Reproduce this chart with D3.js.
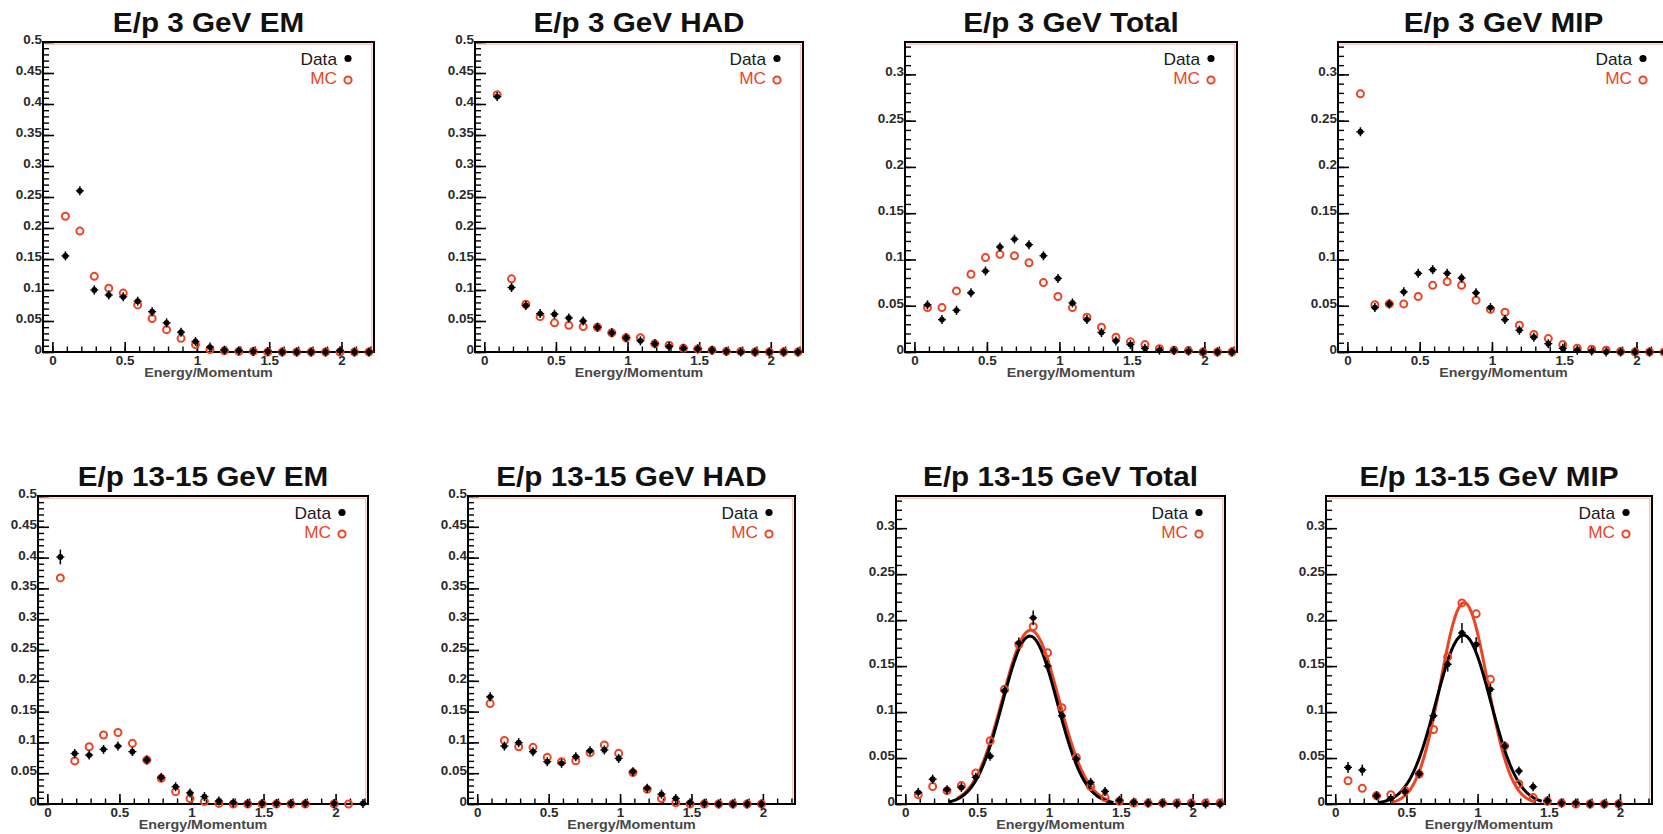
<!DOCTYPE html>
<html>
<head>
<meta charset="utf-8">
<script src="https://cdn.jsdelivr.net/npm/d3@7"></script>
<style>
  html, body { margin: 0; padding: 0; background: #fff; }
  svg { display: block; font-family: "Liberation Sans", Arial, Helvetica, sans-serif; }
</style>
</head>
<body>
<svg id="chart" width="1663" height="834"></svg>
<script>
// ---- bins and axis ticks ----
const binCenters = [0.09, 0.19, 0.29, 0.39, 0.49, 0.59, 0.69, 0.79, 0.89, 0.99, 1.09,
                    1.19, 1.29, 1.39, 1.49, 1.59, 1.69, 1.79, 1.89, 1.99, 2.09, 2.19];
const xTicks = [0, 0.5, 1, 1.5, 2];
const yTicksWide = [0, 0.05, 0.1, 0.15, 0.2, 0.25, 0.3, 0.35, 0.4, 0.45, 0.5];
const yTicksNarrow = [0, 0.05, 0.1, 0.15, 0.2, 0.25, 0.3];
const xAxisTitle = "Energy/Momentum";
const legendLabels = ["Data", "MC"];

// ---- 3 GeV ----
const em3Data  = [0.155, 0.26, 0.10, 0.092, 0.089, 0.082, 0.065, 0.047, 0.032, 0.017, 0.008, 0.003, 0.002, 0.001, 0.001, 0, 0, 0, 0, 0.002, 0, 0];
const em3MC    = [0.219, 0.195, 0.122, 0.103, 0.095, 0.076, 0.054, 0.036, 0.022, 0.012, 0.004, 0.002, 0.001, 0.001, 0, 0, 0, 0, 0, 0, 0, 0];
const had3Data = [0.412, 0.104, 0.075, 0.062, 0.061, 0.055, 0.050, 0.040, 0.031, 0.023, 0.018, 0.0135, 0.009, 0.006, 0.005, 0.003, 0.001, 0, 0, 0, 0, 0];
const had3MC   = [0.415, 0.118, 0.077, 0.057, 0.047, 0.043, 0.041, 0.040, 0.031, 0.023, 0.023, 0.0135, 0.011, 0.006, 0.005, 0.003, 0.001, 0.001, 0, 0, 0, 0];
const tot3Data = [0.051, 0.035, 0.045, 0.064, 0.0875, 0.1135, 0.122, 0.116, 0.104, 0.0795, 0.053, 0.035, 0.021, 0.012, 0.008, 0.004, 0.002, 0.0015, 0.001, 0, 0, 0];
const tot3MC   = [0.048, 0.048, 0.066, 0.084, 0.102, 0.1055, 0.104, 0.0965, 0.075, 0.060, 0.048, 0.0376, 0.0268, 0.016, 0.011, 0.008, 0.0036, 0.002, 0.0015, 0, 0, 0];
const mip3Data = [0.238, 0.048, 0.052, 0.065, 0.085, 0.089, 0.085, 0.080, 0.064, 0.048, 0.035, 0.0235, 0.016, 0.009, 0.004, 0.002, 0.001, 0, 0, 0, 0, 0];
const mip3MC   = [0.279, 0.051, 0.052, 0.052, 0.060, 0.072, 0.076, 0.072, 0.056, 0.046, 0.043, 0.029, 0.019, 0.0145, 0.008, 0.004, 0.003, 0.002, 0.0005, 0, 0, 0];

// ---- 13-15 GeV ----
const em13Data  = [0.401, 0.082, 0.0795, 0.0887, 0.094, 0.085, 0.0714, 0.043, 0.028, 0.018, 0.012, 0.005, 0.002, 0.001, 0.001, 0.001, 0.001, 0.001, null, 0.001, null, 0.001];
const em13MC    = [0.367, 0.070, 0.093, 0.112, 0.116, 0.0985, 0.0714, 0.0417, 0.020, 0.009, 0.004, 0.001, 0, 0, 0, 0, 0, 0, null, 0, 0, null];
const em13Err   = [0.012, 0, 0, 0, 0, 0, 0, 0, 0, 0, 0, 0, 0, 0, 0, 0, 0, 0, 0, 0, 0, 0];
const had13Data = [0.174, 0.094, 0.0996, 0.085, 0.0687, 0.066, 0.0768, 0.0866, 0.0877, 0.074, 0.0525, 0.0254, 0.016, 0.009, 0.002, 0.001, 0, 0, 0, 0, null, null];
const had13MC   = [0.163, 0.103, 0.093, 0.092, 0.0758, 0.0687, 0.0703, 0.0833, 0.0958, 0.0822, 0.051, 0.0238, 0.009, 0.002, 0, 0, 0, 0, 0, 0, null, null];
const tot13Data = [0.0127, 0.027, 0.0155, 0.018, 0.029, 0.052, 0.123, 0.175, 0.2025, 0.150, 0.096, 0.049, 0.0235, 0.0137, 0.004, 0.002, 0.001, 0.001, 0, 0, 0, 0];
const tot13MC   = [0.010, 0.019, 0.0145, 0.020, 0.0336, 0.0687, 0.1247, 0.1735, 0.193, 0.1645, 0.1048, 0.0506, 0.019, 0.007, 0.003, 0.001, 0.001, 0.001, 0.001, 0.001, 0.001, 0.001];
const tot13Err  = [0.002, 0.004, 0.003, 0.003, 0.003, 0.004, 0.005, 0.006, 0.008, 0.006, 0.005, 0.004, 0.003, 0.003, 0, 0, 0, 0, 0, 0, 0, 0];
const mip13Data = [0.0398, 0.0369, 0.009, 0.006, 0.0137, 0.033, 0.096, 0.152, 0.186, 0.1735, 0.1247, 0.063, 0.036, 0.0188, 0.0036, 0.001, 0.001, 0, 0, 0, null, null];
const mip13MC   = [0.0253, 0.017, 0.009, 0.010, 0.0145, 0.0325, 0.081, 0.160, 0.2187, 0.2068, 0.1356, 0.063, 0.0217, 0.007, 0.003, 0.001, 0, 0, 0, 0, null, null];
const mip13Err  = [0.006, 0.006, 0.003, 0.002, 0.003, 0.004, 0.006, 0.008, 0.011, 0.008, 0.006, 0.004, 0.004, 0.003, 0, 0, 0, 0, 0, 0, 0, 0];

// Gaussian fit parameters [amplitude, mean, sigma, from, to]
const tot13FitData = [0.1826, 0.867, 0.190, 0.30, 1.45];
const tot13FitMC   = [0.189, 0.872, 0.196, 0.36, 1.42];
const mip13FitData = [0.1837, 0.900, 0.192, 0.30, 1.45];
const mip13FitMC   = [0.219, 0.905, 0.165, 0.40, 1.40];

// ---- layout ----
const xDomain = [-0.065, 2.225];
const RED = "#ec4526";
const rowTop = [{ y0: 42, y1: 352 }, { y0: 496, y1: 804 }];
const panels = [
  { title: "E/p 3 GeV EM",        x0: 43,   x1: 374,  row: 0, ymax: 0.5,   yTicks: yTicksWide,   data: em3Data,   mc: em3MC },
  { title: "E/p 3 GeV HAD",       x0: 475,  x1: 803,  row: 0, ymax: 0.5,   yTicks: yTicksWide,   data: had3Data,  mc: had3MC },
  { title: "E/p 3 GeV Total",     x0: 905,  x1: 1237, row: 0, ymax: 0.335, yTicks: yTicksNarrow, data: tot3Data,  mc: tot3MC },
  { title: "E/p 3 GeV MIP",       x0: 1338, x1: 1669, row: 0, ymax: 0.335, yTicks: yTicksNarrow, data: mip3Data,  mc: mip3MC },
  { title: "E/p 13-15 GeV EM",    x0: 38,   x1: 368,  row: 1, ymax: 0.5,   yTicks: yTicksWide,   data: em13Data,  mc: em13MC,  err: em13Err },
  { title: "E/p 13-15 GeV HAD",   x0: 468,  x1: 795,  row: 1, ymax: 0.5,   yTicks: yTicksWide,   data: had13Data, mc: had13MC },
  { title: "E/p 13-15 GeV Total", x0: 896,  x1: 1225, row: 1, ymax: 0.335, yTicks: yTicksNarrow, data: tot13Data, mc: tot13MC, err: tot13Err,
    fitData: tot13FitData, fitMC: tot13FitMC },
  { title: "E/p 13-15 GeV MIP",   x0: 1326, x1: 1652, row: 1, ymax: 0.335, yTicks: yTicksNarrow, data: mip13Data, mc: mip13MC, err: mip13Err,
    fitData: mip13FitData, fitMC: mip13FitMC }
];

const svg = d3.select("#chart");
const fmt = d => d === 0 ? "0" : d3.format(".2~f")(d);

// text drawn with a slight horizontal stretch
function stretchedText(parent, x, y, str, o) {
  return parent.append("text")
    .attr("transform", `translate(${x},${y}) scale(${o.sx || 1},1)`)
    .attr("text-anchor", o.anchor || "middle")
    .attr("font-size", o.size)
    .attr("font-weight", o.weight || "normal")
    .attr("fill", o.fill || "#000")
    .text(str);
}

function gaussPath(xs, ys, p) {
  const [a, m, s, lo, hi] = p;
  const pts = d3.range(lo, hi + 1e-9, 0.005).map(t => [t, a * Math.exp(-0.5 * ((t - m) / s) ** 2)]);
  return d3.line().x(d => xs(d[0])).y(d => ys(d[1])).curve(d3.curveLinear)(pts);
}

panels.forEach(p => {
  const { y0, y1 } = rowTop[p.row];
  const x = d3.scaleLinear().domain(xDomain).range([p.x0, p.x1]);
  const y = d3.scaleLinear().domain([0, p.ymax]).range([y1, y0]);
  const g = svg.append("g");
  const cx = (p.x0 + p.x1) / 2;

  // title
  stretchedText(g, cx, y0 - 10.5, p.title, { size: 28, weight: "bold", sx: 1.06, fill: "#111" });

  // faint red inner edge along top and right
  g.append("path")
    .attr("d", `M${p.x0 + 2},${y0 + 2.2}H${p.x1 - 2.2}V${y1 - 2}`)
    .attr("fill", "none").attr("stroke", "#f3ada0").attr("stroke-width", 1);

  // y axis: minor and major ticks drawn inward
  const yMinor = d3.range(0, p.ymax + 1e-9, 0.01);
  g.append("g").attr("transform", `translate(${p.x0},0)`)
    .call(d3.axisLeft(y).tickValues(yMinor).tickSize(-6).tickFormat(""))
    .call(s => s.select(".domain").remove())
    .call(s => s.selectAll("line").attr("stroke", "#000").attr("stroke-width", 1.4));
  const ya = g.append("g").attr("transform", `translate(${p.x0},0)`)
    .call(d3.axisLeft(y).tickValues(p.yTicks).tickSize(-11).tickPadding(1).tickFormat(fmt));
  ya.select(".domain").remove();
  ya.selectAll("line").attr("stroke", "#000").attr("stroke-width", 1.6);
  ya.selectAll("text").attr("font-size", 12).attr("font-weight", "bold").attr("fill", "#2a2a2a")
    .attr("font-family", "Liberation Sans, Arial, sans-serif")
    .attr("dy", "0.12em").attr("transform", "scale(1.12,1)");

  // x axis
  const xMinor = d3.range(0, 2.2 + 1e-9, 0.1);
  g.append("g").attr("transform", `translate(0,${y1})`)
    .call(d3.axisBottom(x).tickValues(xMinor).tickSize(-5.5).tickFormat(""))
    .call(s => s.select(".domain").remove())
    .call(s => s.selectAll("line").attr("stroke", "#000").attr("stroke-width", 1.4));
  const xa = g.append("g").attr("transform", `translate(0,${y1})`)
    .call(d3.axisBottom(x).tickValues(xTicks).tickSize(-10).tickPadding(4).tickFormat(fmt));
  xa.select(".domain").remove();
  xa.selectAll("line").attr("stroke", "#000").attr("stroke-width", 1.6);
  xa.selectAll("text").attr("font-size", 12).attr("font-weight", "bold").attr("fill", "#2a2a2a")
    .attr("font-family", "Liberation Sans, Arial, sans-serif")
    .attr("transform", "scale(1.12,1)");

  stretchedText(g, cx, y1 + 25, xAxisTitle, { size: 13, weight: "bold", sx: 1.1, fill: "#474747" });

  // frame
  g.append("rect")
    .attr("x", p.x0).attr("y", y0).attr("width", p.x1 - p.x0).attr("height", y1 - y0)
    .attr("fill", "none").attr("stroke", "#000").attr("stroke-width", 2);

  // fit curves
  if (p.fitMC) {
    g.append("path").attr("d", gaussPath(x, y, p.fitMC))
      .attr("fill", "none").attr("stroke", RED).attr("stroke-width", 3);
  }
  if (p.fitData) {
    g.append("path").attr("d", gaussPath(x, y, p.fitData))
      .attr("fill", "none").attr("stroke", "#000").attr("stroke-width", 3);
  }

  // MC: open red circles
  const mcPts = binCenters.map((c, i) => ({ c, v: p.mc[i] })).filter(d => d.v != null);
  g.append("g").selectAll("circle").data(mcPts).join("circle")
    .attr("cx", d => x(d.c)).attr("cy", d => y(d.v)).attr("r", 3.5)
    .attr("fill", "none").attr("stroke", RED).attr("stroke-width", 2);

  // Data: filled black points with error crosses
  const dPts = binCenters.map((c, i) => ({ c, v: p.data[i], e: p.err ? p.err[i] : 0 })).filter(d => d.v != null);
  const dg = g.append("g").selectAll("g").data(dPts).join("g");
  dg.append("line")
    .attr("x1", d => x(d.c)).attr("x2", d => x(d.c))
    .attr("y1", d => Math.min(y(d.v + d.e), y(d.v) - 4.5))
    .attr("y2", d => Math.max(y(d.v - d.e), y(d.v) + 4.5))
    .attr("stroke", "#000").attr("stroke-width", 1.5);
  dg.append("line")
    .attr("x1", d => x(d.c) - 4).attr("x2", d => x(d.c) + 4)
    .attr("y1", d => y(d.v)).attr("y2", d => y(d.v))
    .attr("stroke", "#000").attr("stroke-width", 1.3);
  dg.append("circle")
    .attr("cx", d => x(d.c)).attr("cy", d => y(d.v)).attr("r", 2.9).attr("fill", "#000");

  // legend
  const lx = p.x1 - 26;
  g.append("circle").attr("cx", lx).attr("cy", y0 + 16.5).attr("r", 3.6).attr("fill", "#000");
  stretchedText(g, lx - 11, y0 + 22.5, legendLabels[0], { size: 16, anchor: "end", sx: 1.08, fill: "#1a1a1a" });
  g.append("circle").attr("cx", lx).attr("cy", y0 + 38).attr("r", 3.6)
    .attr("fill", "none").attr("stroke", RED).attr("stroke-width", 2);
  stretchedText(g, lx - 11, y0 + 41.5, legendLabels[1], { size: 16, anchor: "end", sx: 1.08, fill: RED });
});
</script>
</body>
</html>
